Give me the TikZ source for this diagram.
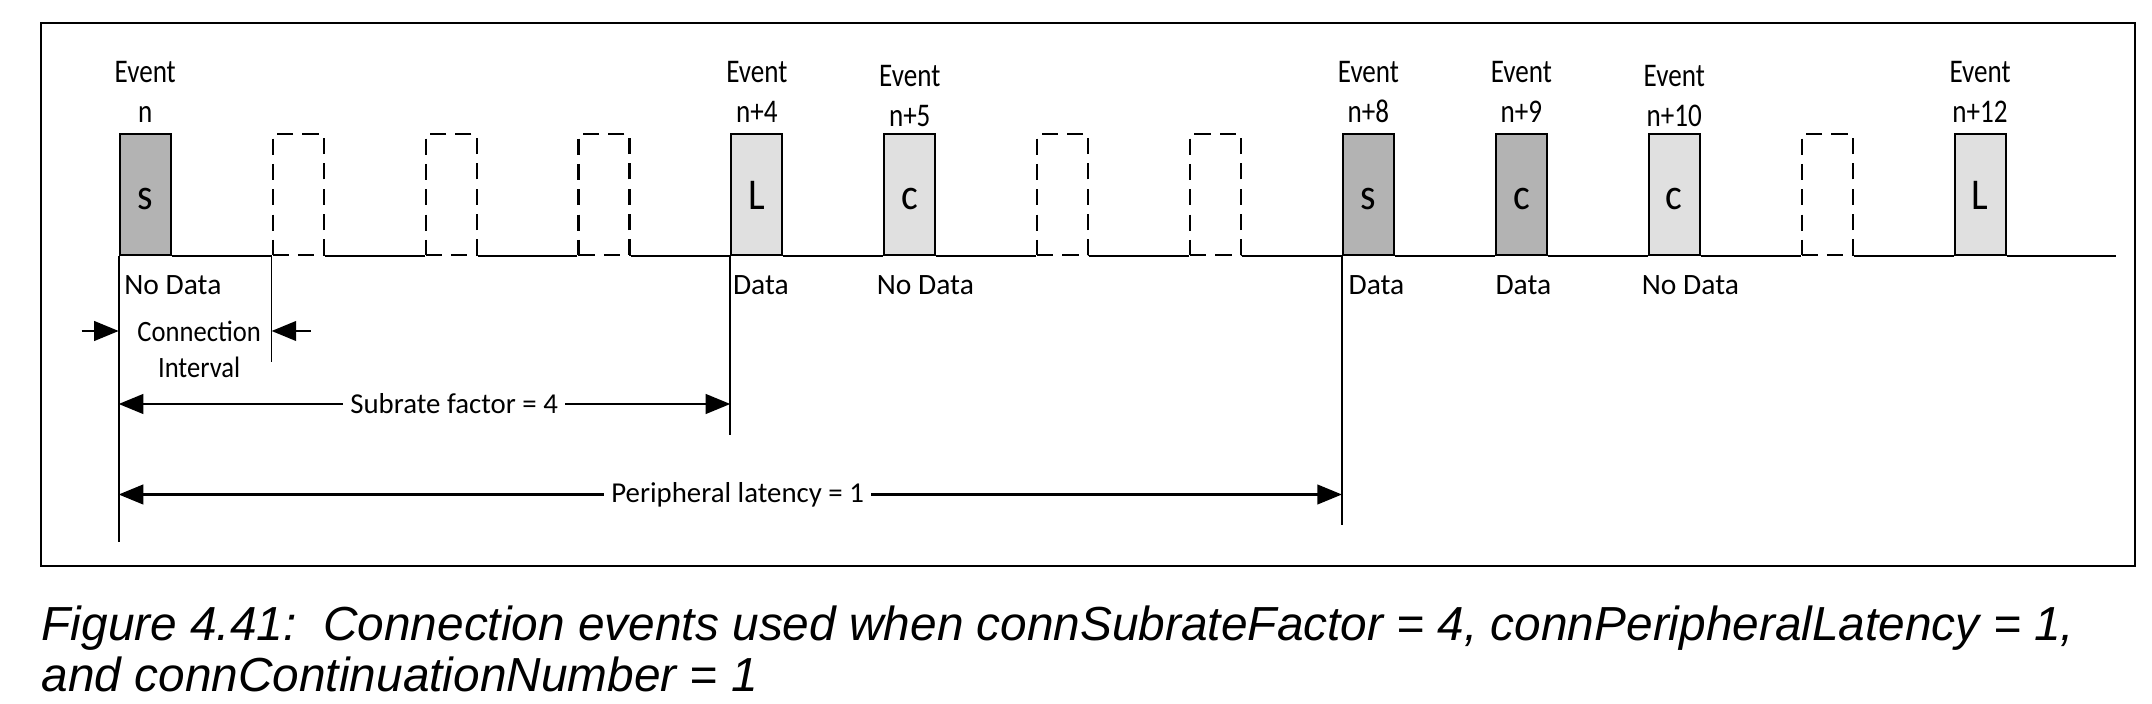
\documentclass[tikz,border=0pt]{standalone}
\usepackage{fontspec}
\setmainfont{Carlito}
\newfontfamily\narrowfont{Carlito}[FakeStretch=0.9]
\newfontfamily\tallfont{Carlito}[FakeStretch=0.82]
\newfontfamily\capfont{Liberation Sans}
\usetikzlibrary{positioning,calc,arrows.meta}
\definecolor{evdarkgray}{HTML}{B3B3B3}
\definecolor{evlightgray}{HTML}{E0E0E0}
\tikzset{
  evbox/.style={draw, line width=0.6pt, minimum width=0.51cm, minimum height=1.21cm, inner sep=0pt, anchor=south west, text height=0.30cm, text depth=0pt, font=\fontsize{12.5}{14}\selectfont\narrowfont},
  evdark/.style={evbox, fill=evdarkgray},
  evlight/.style={evbox, fill=evlightgray},
  evskip/.style={evbox, dash pattern=on 4.6pt off 2.6pt},
  evtitle/.style={align=center, inner sep=0pt, text depth=0pt, font=\fontsize{9.4}{11.4}\selectfont\tallfont},
  evdata/.style={anchor=base west, inner sep=0pt, font=\fontsize{8.4}{10}\selectfont},
  evdim/.style={fill=white, inner xsep=2pt, inner ysep=1pt, font=\fontsize{8.2}{10}\selectfont},
  evtick/.style={line width=0.5pt},
  evtip/.tip={Triangle[length=7pt,width=5.6pt]},
  dimline/.style={line width=0.6pt, evtip-evtip},
}
\begin{document}
\begin{tikzpicture}
	\useasboundingbox (0,0) rectangle (21.52,7.04);
	% Rahmen
	\draw [line width=0.8pt] (0.41,1.38) rectangle (21.35,6.81);
	% connection events
	\foreach \i/\st/\txt in {0/evdark/s,1/evskip/{},2/evskip/{},3/evskip/{},4/evlight/L,5/evlight/c,6/evskip/{},7/evskip/{},8/evdark/s,9/evdark/c,10/evlight/c,11/evskip/{},12/evlight/L}
		\node [\st] (e\i) at (1.187+\i*1.529,4.48) {\txt};
	% time line
	\foreach \i [count=\j from 1] in {0,...,11}
		\draw [line width=0.6pt] (e\i.south east) -- (e\j.south west);
	\coordinate (lineend) at (21.16,4.48);
	\draw [line width=0.6pt] (e12.south east) -- (lineend);
	% event names
	\foreach \i/\lab/\dy in {0/n/0.10,4/n+4/0.10,5/n+5/0.06,8/n+8/0.10,9/n+9/0.10,10/n+10/0.06,12/n+12/0.10}
		\node [evtitle, above=\dy cm of e\i.north] (t\i) {Event\\\lab};
	% data / no data
	\foreach \i/\dx/\txt in {0/0.05/No Data,4/0.02/Data,5/-0.07/No Data,8/0.06/Data,9/0/Data,10/-0.065/No Data}
		\node [evdata] (d\i) at ([xshift=\dx cm,yshift=-0.39cm]e\i.south west) {\txt};
	% Markierungen
	\foreach \i/\len in {0/2.86,1/1.06,4/1.79,8/2.69} {
		\coordinate (m\i) at ([yshift=-\len cm]e\i.south west);
		\draw [evtick] (e\i.south west) -- (m\i);
	}
	% connection interval
	\coordinate (ci0) at ([yshift=-0.75cm]e0.south west);
	\coordinate (ci1) at ([yshift=-0.75cm]e1.south west);
	\draw [line width=0.6pt, -evtip] ([xshift=-0.37cm]ci0) -- (ci0);
	\draw [line width=0.6pt, -evtip] ([xshift=0.39cm]ci1) -- (ci1);
	\node [evtitle, anchor=south, font=\fontsize{8.4}{10.2}\selectfont\narrowfont] (ci) at ($(ci0)!0.5!(ci1)+(0.04,-0.47)$) {Connection\\Interval};
	% subrate factor
	\coordinate (sf0) at ([yshift=-1.48cm]e0.south west);
	\coordinate (sf4) at ([yshift=-1.48cm]e4.south west);
	\draw [dimline] (sf0) -- (sf4);
	\node [evdim] (sf) at ($(sf0)!0.5485!(sf4)$) {Subrate factor = 4};
	% peripheral latency
	\coordinate (pl0) at ([yshift=-2.385cm]e0.south west);
	\coordinate (pl8) at ([yshift=-2.385cm]e8.south west);
	\draw [dimline] (pl0) -- (pl8);
	\node [evdim] (pl) at ($(pl0)!0.506!(pl8)$) {Peripheral latency = 1};
	% Bildunterschrift
	\node [anchor=south west, inner sep=0pt, text depth=0pt, align=left, font=\fontsize{13.6}{14.5}\selectfont\capfont\itshape] (caption) at (0.41,0.12) {Figure 4.41:\ \ Connection events used when connSubrateFactor = 4, connPeripheralLatency = 1,\\and connContinuationNumber = 1};
\end{tikzpicture}
\end{document}
